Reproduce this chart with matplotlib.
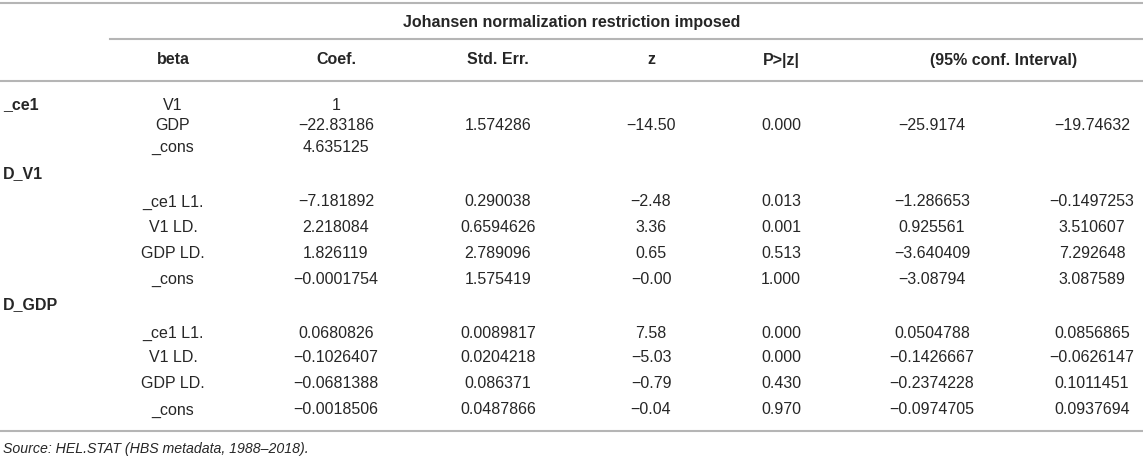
"""Johansen normalization table redrawn with matplotlib."""

import matplotlib.pyplot as plt

# table contents
title = "Johansen normalization restriction imposed"
columns = ["beta", "Coef.", "Std. Err.", "z", "P>|z|", "(95% conf. Interval)"]
groups = ["_ce1", "D_V1", "D_GDP"]

ce1_beta = ["V1", "GDP", "_cons"]
ce1_coef = ["1", "\u221222.83186", "4.635125"]
ce1_se = "1.574286"
ce1_z = "\u221214.50"
ce1_p = "0.000"
ce1_lo = "\u221225.9174"
ce1_hi = "\u221219.74632"

beta_rows = ["_ce1 L1.", "V1 LD.", "GDP LD.", "_cons"]

dv1_coef = ["\u22127.181892", "2.218084", "1.826119", "\u22120.0001754"]
dv1_se = ["0.290038", "0.6594626", "2.789096", "1.575419"]
dv1_z = ["\u22122.48", "3.36", "0.65", "\u22120.00"]
dv1_p = ["0.013", "0.001", "0.513", "1.000"]
dv1_lo = ["\u22121.286653", "0.925561", "\u22123.640409", "\u22123.08794"]
dv1_hi = ["\u22120.1497253", "3.510607", "7.292648", "3.087589"]

dgdp_coef = ["0.0680826", "\u22120.1026407", "\u22120.0681388", "\u22120.0018506"]
dgdp_se = ["0.0089817", "0.0204218", "0.086371", "0.0487866"]
dgdp_z = ["7.58", "\u22125.03", "\u22120.79", "\u22120.04"]
dgdp_p = ["0.000", "0.000", "0.430", "0.970"]
dgdp_lo = ["0.0504788", "\u22120.1426667", "\u22120.2374228", "\u22120.0974705"]
dgdp_hi = ["0.0856865", "\u22120.0626147", "0.1011451", "0.0937694"]

source = "Source: HEL.STAT (HBS metadata, 1988\u20132018)."

# layout (pixel coordinates of the 1143x458 canvas)
W, H = 1143, 458
col_x = [173, 336, 498, 651, 781, 932, 1092]
head_ci_x = 1004
fs = 11.5
ink = "#262626"
rule = "#b5b5b5"
base = 5.5  # centre of caps -> baseline

plt.rcParams["font.family"] = ["Liberation Sans", "DejaVu Sans"]

fig = plt.figure(figsize=(W / 100, H / 100), dpi=100)
ax = fig.add_axes([0, 0, 1, 1])
ax.set_xlim(0, W)
ax.set_ylim(H, 0)
ax.axis("off")


def put(x, y, s, ha="center", weight="normal", style="normal", size=fs):
    ax.text(x, y + base, s, ha=ha, va="baseline", fontsize=size,
            color=ink, fontweight=weight, fontstyle=style)


# rules
ax.plot([0, W], [3, 3], color=rule, lw=1.5)
ax.plot([110, W], [39, 39], color=rule, lw=1.5)
ax.plot([0, W], [81, 81], color=rule, lw=1.5)
ax.plot([0, W], [431, 431], color=rule, lw=1.5)

# headers
put(W / 2, 21, title, weight="bold")
for i, c in enumerate(columns):
    x = head_ci_x if i == 5 else col_x[i]
    put(x, 59, c, weight="bold")

# _ce1 block
put(3, 104, groups[0], ha="left", weight="bold")
ce1_y = [104, 125, 146]
for y, b, c in zip(ce1_y, ce1_beta, ce1_coef):
    put(col_x[0], y, b)
    put(col_x[1], y, c)
for x, s in zip(col_x[2:], [ce1_se, ce1_z, ce1_p, ce1_lo, ce1_hi]):
    put(x, ce1_y[1], s)

# D_V1 and D_GDP blocks
blocks = [
    (groups[1], 173, [201, 227, 252, 278],
     [dv1_coef, dv1_se, dv1_z, dv1_p, dv1_lo, dv1_hi]),
    (groups[2], 304, [332, 357, 383, 409],
     [dgdp_coef, dgdp_se, dgdp_z, dgdp_p, dgdp_lo, dgdp_hi]),
]
for name, gy, rows_y, cols in blocks:
    put(3, gy, name, ha="left", weight="bold")
    for r, y in enumerate(rows_y):
        put(col_x[0], y, beta_rows[r])
        for x, vals in zip(col_x[1:], cols):
            put(x, y, vals[r])

put(3, 448, source, ha="left", style="italic", size=10.2)

fig.savefig("out.png", dpi=100)
